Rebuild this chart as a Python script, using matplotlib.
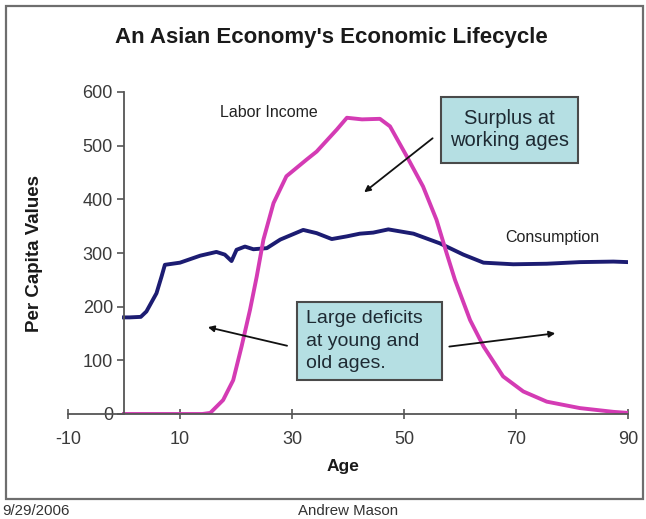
import matplotlib
matplotlib.use("Agg")
import matplotlib.pyplot as plt
from matplotlib.patches import Rectangle

plt.rcParams['font.family'] = ['Liberation Sans', 'DejaVu Sans']
plt.rcParams['axes.unicode_minus'] = False

# Per capita consumption by age
cons_age = [0, 1, 3, 4, 5.8, 6.7, 7.3, 10, 13.6, 16.5, 18, 19.2, 20.1, 21.6, 23.1,
            25.5, 27.9, 32, 34.4, 37.1, 39.8, 42.1, 44.5, 47.2, 51.7, 56.4, 60.6,
            64.2, 69.5, 75.5, 81.4, 87.4, 90]
cons_val = [180, 180, 181, 191, 225, 256, 278, 282, 295, 302, 297, 285, 306, 312, 307,
            309, 325, 343, 337, 326, 331, 336, 338, 344, 336, 318, 297,
            282, 279, 280, 283, 284, 283]

# Per capita labor income by age
inc_age = [0, 14, 15.4, 17.7, 19.5, 21, 22.5, 23.7, 24.9, 26.7, 29, 32.6, 34.4, 38,
           39.8, 42.5, 45.7, 47.5, 50.5, 53.4, 55.8, 57.6, 59.1, 61.8, 64.2, 67.7,
           71.3, 75.5, 81.4, 87.4, 90]
inc_val = [0, 0, 2, 26, 63, 126, 194, 256, 325, 393, 443, 474, 489, 530,
           552, 549, 550, 536, 480, 424, 362, 300, 250, 175, 126, 70,
           42, 23, 11, 4, 2]

x_ticks = [-10, 10, 30, 50, 70, 90]
y_ticks = [0, 100, 200, 300, 400, 500, 600]

W, H = 646, 519
fig = plt.figure(figsize=(W / 100, H / 100), dpi=100)

# outer frame around the slide chart
fig.patches.append(Rectangle((6 / W, 1 - 499 / H), (643 - 6) / W, (499 - 6) / H,
                             transform=fig.transFigure, fill=False,
                             edgecolor='#6e6e6e', linewidth=1.6))

ax = fig.add_axes([68 / W, (H - 414) / H, 560 / W, 322 / H])
ax.set_xlim(-10, 90)
ax.set_ylim(0, 600)

ax.plot(cons_age, cons_val, color='#1c1c72', linewidth=2.8, solid_joinstyle='round')
ax.plot(inc_age, inc_val, color='#d43bb4', linewidth=2.8, solid_joinstyle='round')

for side in ('top', 'right'):
    ax.spines[side].set_visible(False)
ax.spines['left'].set_position(('data', 0))
ax.spines['bottom'].set_position(('data', 0))
for side in ('left', 'bottom'):
    ax.spines[side].set_color('#555555')
    ax.spines[side].set_linewidth(1.3)

ax.set_xticks(x_ticks)
ax.set_yticks(y_ticks)
ax.tick_params(axis='x', direction='inout', length=7, width=1.2, color='#555555',
               labelsize=13, labelcolor='#3a3a3a', pad=9)
ax.tick_params(axis='y', direction='out', length=5, width=1.2, color='#555555',
               labelsize=13, labelcolor='#3a3a3a', pad=3)
ax.patch.set_alpha(0)

fig.text(331 / W, 1 - 38 / H, "An Asian Economy's Economic Lifecycle",
         ha='center', va='center', fontsize=16, fontweight='bold', color='#1a1a1a')
fig.text(35 / W, 1 - 254 / H, 'Per Capita Values', rotation=90,
         ha='center', va='center', fontsize=13.5, fontweight='bold', color='#1a1a1a')
fig.text(343 / W, 1 - 467 / H, 'Age', ha='center', va='center',
         fontsize=12.5, fontweight='bold', color='#1a1a1a')

ax.text(25.9, 561, 'Labor Income', ha='center', va='center', fontsize=11.5, color='#222222')
ax.text(76.4, 328, 'Consumption', ha='center', va='center', fontsize=11.5, color='#222222')

# callout boxes
box_fc, box_ec = '#b5dfe3', '#4a4a4a'
ax.add_patch(Rectangle((56.6, 468), 81.1 - 56.6, 591 - 468, facecolor=box_fc,
                       edgecolor=box_ec, linewidth=1.5, zorder=3, clip_on=False))
ax.text(68.8, 530, 'Surplus at\nworking ages', ha='center', va='center',
        fontsize=14.5, color='#1e2a33', linespacing=1.2, zorder=4)
ax.add_patch(Rectangle((30.9, 63), 56.8 - 30.9, 209 - 63, facecolor=box_fc,
                       edgecolor=box_ec, linewidth=1.5, zorder=3))
ax.text(32.5, 136, 'Large deficits\nat young and\nold ages.', ha='left', va='center',
        fontsize=14, color='#1e2a33', linespacing=1.4, zorder=4)

arrow_kw = dict(arrowstyle='-|>', color='#111111', linewidth=1.3, mutation_scale=9)
ax.annotate('', xy=(42.5, 410), xytext=(55.5, 517), arrowprops=arrow_kw)
ax.annotate('', xy=(14.5, 163), xytext=(29.6, 126), arrowprops=arrow_kw)
ax.annotate('', xy=(77.5, 151), xytext=(57.6, 125), arrowprops=arrow_kw)

fig.text(2 / W, 1 - 511 / H, '9/29/2006', ha='left', va='center', fontsize=10.8, color='#333333')
fig.text(348 / W, 1 - 511 / H, 'Andrew Mason', ha='center', va='center',
         fontsize=10.8, color='#333333')

fig.savefig('out.png', dpi=100)
